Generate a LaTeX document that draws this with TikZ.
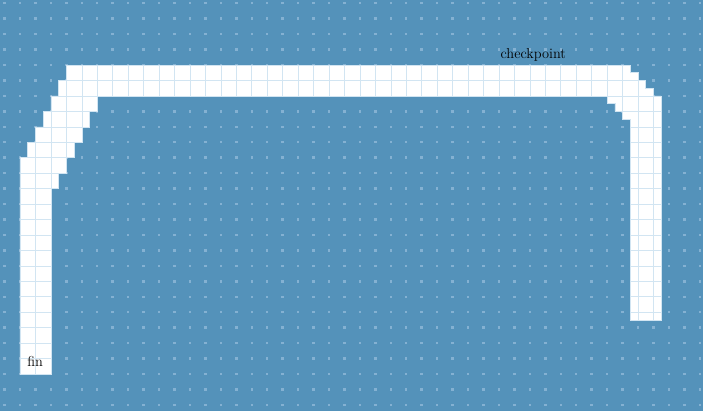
\documentclass[tikz,border=0pt]{standalone}
\definecolor{bgblue}{RGB}{84,146,186}
\definecolor{dotblue}{RGB}{132,177,210}
\definecolor{gridblue}{RGB}{210,229,242}
\def\trackpath{(3,0) -- (39.5,0) -- (39.5,0.5) -- (40,0.5) -- (40,1) -- (40.5,1) -- (40.5,1.5) -- (41,1.5) -- (41,2) -- (41.5,2) -- (41.5,16.5) -- (39.5,16.5) -- (39.5,3.5) -- (39,3.5) -- (39,3) -- (38.5,3) -- (38.5,2.5) -- (38,2.5) -- (38,2) -- (5,2) -- (5,3) -- (4.5,3) -- (4.5,4) -- (4,4) -- (4,5) -- (3.5,5) -- (3.5,6) -- (3,6) -- (3,7) -- (2.5,7) -- (2.5,8) -- (2,8) -- (2,20) -- (0,20) -- (0,6) -- (0.5,6) -- (0.5,5) -- (1,5) -- (1,4) -- (1.5,4) -- (1.5,3) -- (2,3) -- (2,2) -- (2.5,2) -- (2.5,1) -- (3,1) -- cycle}
\begin{document}
\begin{tikzpicture}[x=15.45pt,y=-15.45pt,
  lbl/.style={font=\fontsize{14.4}{17}\selectfont, inner sep=0pt, anchor=base, text=black},
  dotmark/.style={fill=dotblue},
  gridline/.style={draw=gridblue, line width=0.6pt}]
\fill[bgblue] (-1.2945,-4.2071) rectangle (44.207,22.395);
\useasboundingbox (-1.2945,-4.2071) rectangle (44.207,22.395);
\foreach \i in {-1,...,44}{
  \foreach \j in {-4,...,22}{
    \fill[dotmark] (\i-0.08,\j-0.08) rectangle (\i+0.08,\j+0.08);
  }
}
\fill[white] \trackpath;
\begin{scope}
  \clip \trackpath;
  \draw[gridline] (-1,-1) grid[step=15.45pt] (43,21);
\end{scope}
\draw[gridblue, line width=0.5pt] \trackpath;
\node[lbl] (checkpoint) at (33.22,-0.43) {checkpoint};
\node[lbl] (fin) at (0.98,19.53) {fin};
\end{tikzpicture}
\end{document}
